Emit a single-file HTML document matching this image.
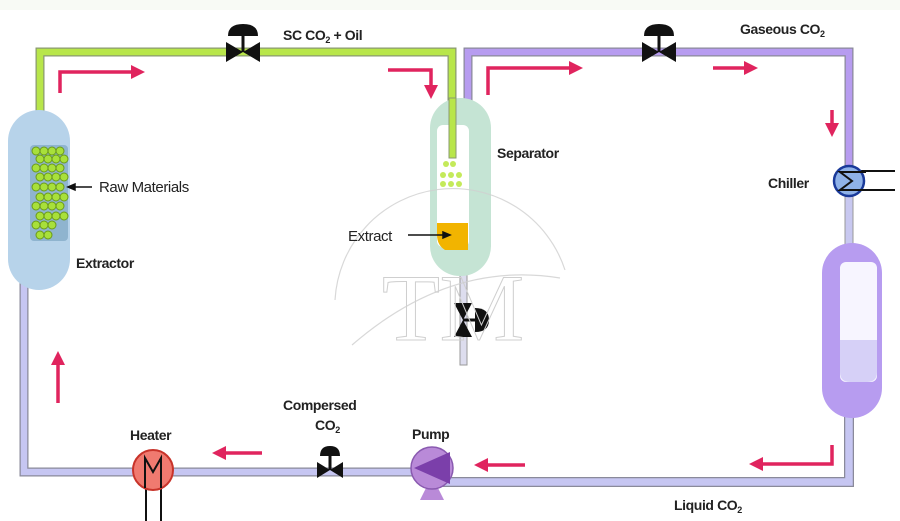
<!DOCTYPE html>
<html><head><style>
html,body{margin:0;padding:0;background:#fff;}
svg{display:block;font-family:"Liberation Sans",Arial,sans-serif;}
text{font-weight:bold;font-size:14px;fill:#222;letter-spacing:-0.4px;}
</style></head><body>
<svg width="900" height="521" viewBox="0 0 900 521">
<rect width="900" height="521" fill="#fff"/>
<rect width="900" height="10" fill="#f8faf5"/>
<defs>
<marker id="ah" viewBox="0 0 10 10" refX="5" refY="5" markerWidth="4" markerHeight="4" orient="auto"><path d="M0,0 L10,5 L0,10 z" fill="#e0245e"/></marker>
</defs>
<path d="M24,280 V472 H420" fill="none" stroke="#8a8a9a" stroke-width="9"/>
<path d="M24,280 V472 H420" fill="none" stroke="#c6c6f2" stroke-width="6.5"/>
<path d="M440,482 H849 V410" fill="none" stroke="#8a8a9a" stroke-width="10"/>
<path d="M440,482 H849 V410" fill="none" stroke="#c6c6f2" stroke-width="7.5"/>
<rect x="845" y="195" width="8" height="55" fill="#c8c8f0" stroke="#999" stroke-width="1"/>
<path d="M40,115 V52 H452 V155" fill="none" stroke="#8a9a70" stroke-width="9"/>
<path d="M40,115 V52 H452 V155" fill="none" stroke="#b8e64a" stroke-width="6.5"/>
<path d="M468,102 V52 H849 V170" fill="none" stroke="#8a8a9a" stroke-width="9"/>
<path d="M468,102 V52 H849 V170" fill="none" stroke="#b79cf0" stroke-width="6.5"/>
<rect x="8" y="110" width="62" height="180" rx="31" fill="#b7d3ea"/>
<rect x="30" y="145" width="38" height="96" rx="4" fill="#8fb4cf"/>
<g fill="#a8e03a" stroke="#6a9a1a" stroke-width="1">
<circle cx="36" cy="151" r="4"/><circle cx="44" cy="151" r="4"/><circle cx="52" cy="151" r="4"/><circle cx="60" cy="151" r="4"/>
<circle cx="40" cy="159" r="4"/><circle cx="48" cy="159" r="4"/><circle cx="56" cy="159" r="4"/><circle cx="64" cy="159" r="4"/>
<circle cx="36" cy="168" r="4"/><circle cx="44" cy="168" r="4"/><circle cx="52" cy="168" r="4"/><circle cx="60" cy="168" r="4"/>
<circle cx="40" cy="177" r="4"/><circle cx="48" cy="177" r="4"/><circle cx="56" cy="177" r="4"/><circle cx="64" cy="177" r="4"/>
<circle cx="36" cy="187" r="4"/><circle cx="44" cy="187" r="4"/><circle cx="52" cy="187" r="4"/><circle cx="60" cy="187" r="4"/>
<circle cx="40" cy="197" r="4"/><circle cx="48" cy="197" r="4"/><circle cx="56" cy="197" r="4"/><circle cx="64" cy="197" r="4"/>
<circle cx="36" cy="206" r="4"/><circle cx="44" cy="206" r="4"/><circle cx="52" cy="206" r="4"/><circle cx="60" cy="206" r="4"/>
<circle cx="40" cy="216" r="4"/><circle cx="48" cy="216" r="4"/><circle cx="56" cy="216" r="4"/><circle cx="64" cy="216" r="4"/>
<circle cx="36" cy="225" r="4"/><circle cx="44" cy="225" r="4"/><circle cx="52" cy="225" r="4"/>
<circle cx="40" cy="235" r="4"/><circle cx="48" cy="235" r="4"/>
</g>
<rect x="460" y="270" width="7" height="95" fill="#dde" stroke="#999" stroke-width="1"/>
<rect x="430" y="98" width="61" height="178" rx="30" fill="#c5e4d4"/>
<rect x="437" y="125" width="32" height="122" rx="6" fill="#fff"/>
<path d="M437,223 H468 V250 H445 Q437,245 437,235 Z" fill="#f2b400"/>
<rect x="449" y="98" width="7" height="60" fill="#b8e64a" stroke="#8a9a70" stroke-width="1"/>
<g fill="#c4ea5a"><circle cx="446" cy="164" r="3"/><circle cx="453" cy="164" r="3"/>
<circle cx="443" cy="175" r="3"/><circle cx="451" cy="175" r="3"/><circle cx="459" cy="175" r="3"/>
<circle cx="443" cy="184" r="3"/><circle cx="451" cy="184" r="3"/><circle cx="459" cy="184" r="3"/></g>
<rect x="822" y="243" width="60" height="175" rx="30" fill="#b79cf0"/>
<rect x="840" y="262" width="37" height="120" rx="6" fill="#f7f5ff"/>
<path d="M840,340 H877 V372 Q877,382 867,382 H850 Q840,382 840,372 Z" fill="#d6d0f7"/>
<line x1="849" y1="171" x2="895" y2="171" stroke="#111" stroke-width="2"/>
<line x1="849" y1="190" x2="895" y2="190" stroke="#111" stroke-width="2"/>
<circle cx="849" cy="181" r="15" fill="#8fb2e8" stroke="#1a3a9a" stroke-width="2.5"/>
<path d="M866,172 H840 L852,181 L840,190 H866" fill="none" stroke="#111" stroke-width="2"/>
<line x1="146" y1="480" x2="146" y2="521" stroke="#111" stroke-width="2"/>
<line x1="161" y1="480" x2="161" y2="521" stroke="#111" stroke-width="2"/>
<circle cx="153" cy="470" r="20" fill="#f07a70" stroke="#c8332a" stroke-width="2"/>
<path d="M145,488 V458 L153,472 L161,458 V488" fill="none" stroke="#111" stroke-width="2"/>
<path d="M420,500 L444,500 L438,488 L426,488 Z" fill="#b98ad8"/>
<circle cx="432" cy="468" r="21" fill="#b98ad8" stroke="#8a5ab0" stroke-width="1.5"/>
<path d="M414,468 L450,452 L450,484 Z" fill="#7b3faa"/>
<g fill="#111">
<g transform="translate(243,52)"><path d="M-17,-10 L0,0 L-17,10 Z M17,-10 L0,0 L17,10 Z"/><rect x="-1.5" y="-16" width="3" height="16"/><path d="M-15,-16 Q-15,-28 0,-28 Q15,-28 15,-16 Z"/></g>
<g transform="translate(659,52)"><path d="M-17,-10 L0,0 L-17,10 Z M17,-10 L0,0 L17,10 Z"/><rect x="-1.5" y="-16" width="3" height="16"/><path d="M-15,-16 Q-15,-28 0,-28 Q15,-28 15,-16 Z"/></g>
<g transform="translate(330,470)"><path d="M-13,-8 L0,0 L-13,8 Z M13,-8 L0,0 L13,8 Z"/><rect x="-1.5" y="-14" width="3" height="14"/><path d="M-10,-14 Q-10,-24 0,-24 Q10,-24 10,-14 Z"/></g>
<g transform="translate(463,320)"><path d="M-9,-17 L0,0 L9,-17 Z M-9,17 L0,0 L9,17 Z"/><rect x="0" y="-1.5" width="12" height="3"/><path d="M12,-12 Q26,-12 26,0 Q26,12 12,12 Z"/></g>
</g>
<g fill="none" stroke="#e0245e" stroke-width="3.5" marker-end="url(#ah)">
<path d="M60,93 V72 H138"/>
<path d="M388,70 H431 V92"/>
<path d="M488,95 V68 H576"/>
<path d="M713,68 H751"/>
<path d="M832,110 V130"/>
<path d="M832,445 V464 H756"/>
<path d="M525,465 H481"/>
<path d="M262,453 H219"/>
<path d="M58,403 V358"/>
</g>
<g stroke="#111" stroke-width="1.5" fill="#111">
<line x1="92" y1="187" x2="72" y2="187"/><path d="M68,187 L75,184 L75,190 Z"/>
<line x1="408" y1="235" x2="445" y2="235"/><path d="M450,235 L443,232 L443,238 Z"/>
</g>
<g fill="none" stroke="#cfcfcf" stroke-width="1.2" opacity="0.8">
<path d="M335,300 A118,118 0 0 1 565,270"/>
<path d="M352,345 Q450,260 560,278"/>
</g>
<text x="382" y="340" style="font-family:'Liberation Serif',serif;font-size:95px;font-weight:normal;fill:none;stroke:#cfcfcf;stroke-width:1">TM</text>
<text x="283" y="40">SC  CO<tspan font-size="9" dy="3">2</tspan><tspan dy="-3"> + Oil</tspan></text>
<text x="740" y="34">Gaseous CO<tspan font-size="9" dy="3">2</tspan></text>
<text x="99" y="192" style="font-weight:normal;font-size:15px">Raw Materials</text>
<text x="76" y="268">Extractor</text>
<text x="497" y="158">Separator</text>
<text x="348" y="241" style="font-weight:normal;font-size:15px">Extract</text>
<text x="768" y="188">Chiller</text>
<text x="130" y="440">Heater</text>
<text x="283" y="410">Compersed</text>
<text x="315" y="430">CO<tspan font-size="9" dy="3">2</tspan></text>
<text x="412" y="439">Pump</text>
<text x="674" y="510">Liquid CO<tspan font-size="9" dy="3">2</tspan></text>
</svg>
</body></html>
